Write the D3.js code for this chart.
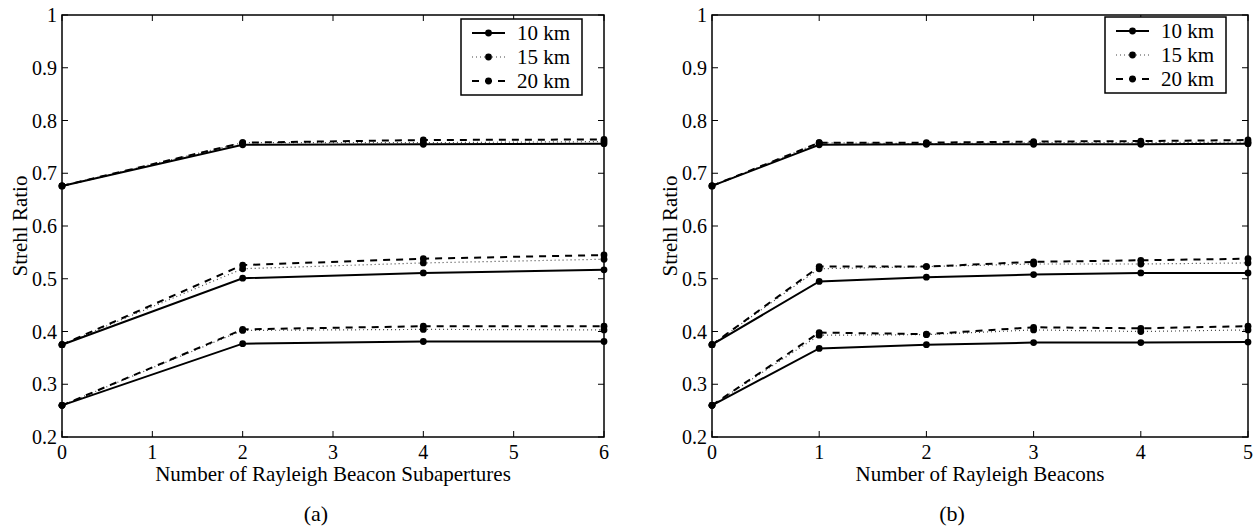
<!DOCTYPE html>
<html>
<head>
<meta charset="utf-8">
<script src="https://cdn.jsdelivr.net/npm/d3@7"></script>
<style>
  body { margin: 0; background: #fff; }
</style>
</head>
<body>
<svg id="fig" width="1258" height="527" font-family="'Liberation Serif', 'DejaVu Serif', serif"></svg>
<script>
// x values of the two panels
const xA = [0, 2, 4, 6];
const xB = [0, 1, 2, 3, 4, 5];
const seriesNames = ["10 km", "15 km", "20 km"];
const yTicks = [0.2, 0.3, 0.4, 0.5, 0.6, 0.7, 0.8, 0.9, 1];

// panel (a): three groups of curves, one array per beacon height
const a10 = [[0.676, 0.754, 0.755, 0.756], [0.375, 0.501, 0.511, 0.517], [0.260, 0.377, 0.381, 0.381]];
const a15 = [[0.676, 0.758, 0.758, 0.760], [0.375, 0.519, 0.530, 0.537], [0.260, 0.402, 0.404, 0.403]];
const a20 = [[0.676, 0.758, 0.763, 0.764], [0.375, 0.526, 0.538, 0.545], [0.260, 0.404, 0.410, 0.410]];

// panel (b)
const b10 = [[0.676, 0.754, 0.755, 0.755, 0.755, 0.756], [0.375, 0.495, 0.503, 0.508, 0.511, 0.511], [0.260, 0.368, 0.375, 0.379, 0.379, 0.380]];
const b15 = [[0.676, 0.758, 0.756, 0.758, 0.758, 0.759], [0.375, 0.519, 0.523, 0.528, 0.528, 0.530], [0.260, 0.393, 0.394, 0.403, 0.400, 0.403]];
const b20 = [[0.676, 0.758, 0.758, 0.760, 0.761, 0.763], [0.375, 0.523, 0.523, 0.532, 0.535, 0.538], [0.260, 0.398, 0.395, 0.408, 0.406, 0.410]];

const styles = [
  { width: 2, dash: null, color: "#000" },
  { width: 1.2, dash: "1,3", color: "#444" },
  { width: 2, dash: "7,6", color: "#000" }
];

const svg = d3.select("#fig");

function panel(opts) {
  const x = d3.scaleLinear().domain(opts.xDomain).range([opts.left, opts.right]);
  const y = d3.scaleLinear().domain([0.2, 1]).range([437, 15]);
  const g = svg.append("g");
  const tickLen = 6;

  // frame
  g.append("rect")
    .attr("x", opts.left).attr("y", 15)
    .attr("width", opts.right - opts.left).attr("height", 437 - 15)
    .attr("fill", "none").attr("stroke", "#000").attr("stroke-width", 1.5);

  // inward ticks on all four sides
  opts.xTicks.forEach(t => {
    g.append("line").attr("x1", x(t)).attr("x2", x(t)).attr("y1", 437).attr("y2", 437 - tickLen).attr("stroke", "#000");
    g.append("line").attr("x1", x(t)).attr("x2", x(t)).attr("y1", 15).attr("y2", 15 + tickLen).attr("stroke", "#000");
    g.append("text").attr("x", x(t)).attr("y", 459).attr("text-anchor", "middle")
      .attr("font-size", 20).text(t);
  });
  yTicks.forEach(t => {
    g.append("line").attr("x1", opts.left).attr("x2", opts.left + tickLen).attr("y1", y(t)).attr("y2", y(t)).attr("stroke", "#000");
    g.append("line").attr("x1", opts.right).attr("x2", opts.right - tickLen).attr("y1", y(t)).attr("y2", y(t)).attr("stroke", "#000");
    g.append("text").attr("x", opts.left - 5).attr("y", y(t) + 7).attr("text-anchor", "end")
      .attr("font-size", 20).text(t === 1 ? "1" : d3.format(".1f")(t));
  });

  // axis labels
  g.append("text").attr("x", (opts.left + opts.right) / 2).attr("y", 481)
    .attr("text-anchor", "middle").attr("font-size", 21).text(opts.xLabel);
  g.append("text").attr("transform", `translate(${opts.left - 35},226) rotate(-90)`)
    .attr("text-anchor", "middle").attr("font-size", 21).text("Strehl Ratio");
  g.append("text").attr("x", opts.capX).attr("y", 521)
    .attr("text-anchor", "middle").attr("font-size", 22).text(opts.caption);

  const line = d3.line().x((d, i) => x(opts.xs[i])).y(d => y(d));

  // draw dotted, dashed, then solid on top
  [1, 2, 0].forEach(si => {
    const st = styles[si];
    opts.data[si].forEach(group => {
      g.append("path").datum(group).attr("d", line)
        .attr("fill", "none").attr("stroke", st.color)
        .attr("stroke-width", st.width)
        .attr("stroke-dasharray", st.dash);
      g.selectAll(null).data(group).enter().append("circle")
        .attr("cx", (d, i) => x(opts.xs[i])).attr("cy", d => y(d))
        .attr("r", 3.4).attr("fill", "#000");
    });
  });

  // legend
  const lg = g.append("g");
  lg.append("rect").attr("x", opts.legX).attr("y", opts.legY)
    .attr("width", 121).attr("height", 76)
    .attr("fill", "#fff").attr("stroke", "#000").attr("stroke-width", 1.5);
  seriesNames.forEach((name, i) => {
    const cy = opts.legY + 14 + i * 24;
    const st = styles[i];
    lg.append("line").attr("x1", opts.legX + 11).attr("x2", opts.legX + 44)
      .attr("y1", cy).attr("y2", cy)
      .attr("stroke", st.color).attr("stroke-width", st.width)
      .attr("stroke-dasharray", st.dash);
    lg.append("circle").attr("cx", opts.legX + 27.5).attr("cy", cy).attr("r", 3.4).attr("fill", "#000");
    lg.append("text").attr("x", opts.legX + 56).attr("y", cy + 7)
      .attr("font-size", 21).text(name);
  });
}

panel({
  left: 62, right: 604, xDomain: [0, 6], xTicks: [0, 1, 2, 3, 4, 5, 6], xs: xA,
  data: [a10, a15, a20], xLabel: "Number of Rayleigh Beacon Subapertures",
  caption: "(a)", capX: 316, legX: 461, legY: 19
});
panel({
  left: 712, right: 1248, xDomain: [0, 5], xTicks: [0, 1, 2, 3, 4, 5], xs: xB,
  data: [b10, b15, b20], xLabel: "Number of Rayleigh Beacons",
  caption: "(b)", capX: 952, legX: 1105, legY: 17
});
</script>
</body>
</html>
